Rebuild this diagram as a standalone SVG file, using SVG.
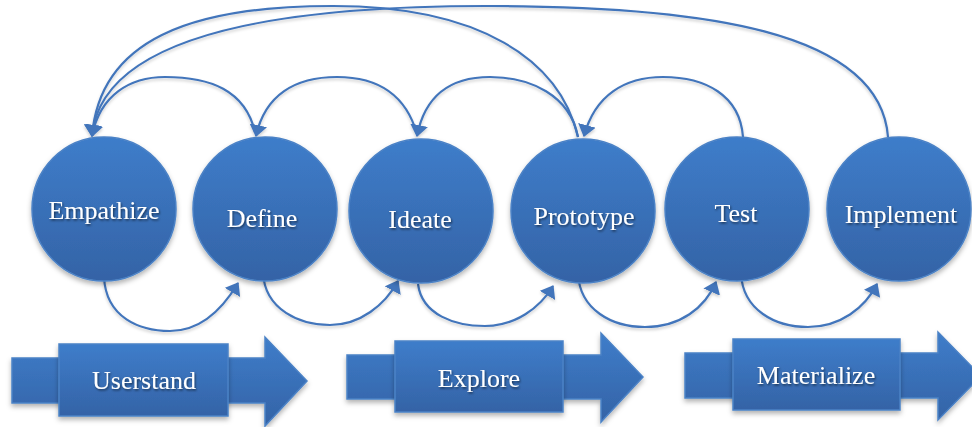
<svg xmlns="http://www.w3.org/2000/svg" width="972" height="427" viewBox="0 0 972 427">
<defs>
<linearGradient id="g" x1="0" y1="0" x2="0" y2="1">
<stop offset="0" stop-color="#3E7DCA"/>
<stop offset="1" stop-color="#3463A6"/>
</linearGradient>
<filter id="sh" x="-20%" y="-20%" width="140%" height="150%">
<feDropShadow dx="0" dy="3" stdDeviation="2.5" flood-color="#000" flood-opacity="0.3"/>
</filter>
<filter id="lsh" x="-10%" y="-10%" width="120%" height="130%">
<feDropShadow dx="0" dy="2" stdDeviation="1.5" flood-color="#000" flood-opacity="0.2"/>
</filter>
<filter id="tsh" x="-10%" y="-20%" width="120%" height="150%">
<feDropShadow dx="1" dy="1.5" stdDeviation="1" flood-color="#000" flood-opacity="0.55"/>
</filter>
<marker id="ah" viewBox="0 0 12 18" refX="11" refY="9" markerWidth="12" markerHeight="18" markerUnits="userSpaceOnUse" orient="auto">
<path d="M0,0 L12,9 L0,18 z" fill="#4275BB"/>
</marker>
</defs>
<style>
.node{fill:url(#g);stroke:#4B82C6;stroke-width:1.5;filter:url(#sh)}
.lbl{font-family:"Liberation Serif","Times New Roman",serif;font-size:26px;fill:#fff;text-anchor:middle;filter:url(#tsh)}
.c{fill:none;stroke:#4275BB;stroke-width:2.2}
.ca{fill:none;stroke:#4275BB;stroke-width:2.2;marker-end:url(#ah)}
</style>
<g id="connectors" filter="url(#lsh)">
<path class="ca" d="M888,137 C880,30 700,6 486,6 C230,6 100,50 92,136"/>
<path class="ca" d="M578,137 C560,60 480,6 333,6 C190,6 100,40 92,136"/>
<path class="ca" d="M255,132 C245,90 210,77 165,77 C130,77 100,95 92,136"/>
<path class="ca" d="M417,134 C405,92 375,77 337,77 C295,77 265,95 256,136"/>
<path class="ca" d="M578,137 C570,95 530,77 490,77 C450,77 425,95 417,136"/>
<path class="ca" d="M743,137 C740,95 705,77 663,77 C625,77 595,95 584,136"/>
<path class="ca" d="M104,277 C106,318 140,331 170,331 C200,331 222,310 238,283"/>
<path class="ca" d="M263,273 C265,310 300,325 330,325 C360,325 385,305 398,281"/>
<path class="ca" d="M418,284 C422,315 455,326 485,326 C515,326 540,308 553,286"/>
<path class="ca" d="M578,274 C580,310 612,327 645,327 C680,327 705,308 716,282"/>
<path class="ca" d="M741,274 C743,310 775,327 808,327 C840,327 865,308 877,284"/>
</g>
<g id="empathize"><circle class="node" cx="104" cy="209" r="72"/><text class="lbl" x="104" y="219">Empathize</text></g>
<g id="define"><circle class="node" cx="265" cy="209" r="72"/><text class="lbl" x="262" y="227">Define</text></g>
<g id="ideate"><circle class="node" cx="421" cy="211" r="72"/><text class="lbl" x="420" y="228">Ideate</text></g>
<g id="prototype"><circle class="node" cx="583" cy="211" r="72"/><text class="lbl" x="584" y="225">Prototype</text></g>
<g id="test"><circle class="node" cx="737" cy="209" r="72"/><text class="lbl" x="736" y="222">Test</text></g>
<g id="implement"><circle class="node" cx="899" cy="209" r="72"/><text class="lbl" x="901" y="223">Implement</text></g>
<g id="userstand">
<polygon class="node" points="12,358 265,358 265,337 307,381 265,426 265,403 12,403"/>
<rect class="node" x="59" y="344" width="169" height="72"/>
<text class="lbl" x="144" y="389">Userstand</text>
</g>
<g id="explore">
<polygon class="node" points="347,355 601,355 601,333 643,377 601,422 601,399 347,399"/>
<rect class="node" x="395" y="341" width="168" height="71"/>
<text class="lbl" x="479" y="387">Explore</text>
</g>
<g id="materialize">
<polygon class="node" points="685,353 938,353 938,332 981,376 938,420 938,398 685,398"/>
<rect class="node" x="733" y="339" width="167" height="71"/>
<text class="lbl" x="816" y="384">Materialize</text>
</g>
</svg>
